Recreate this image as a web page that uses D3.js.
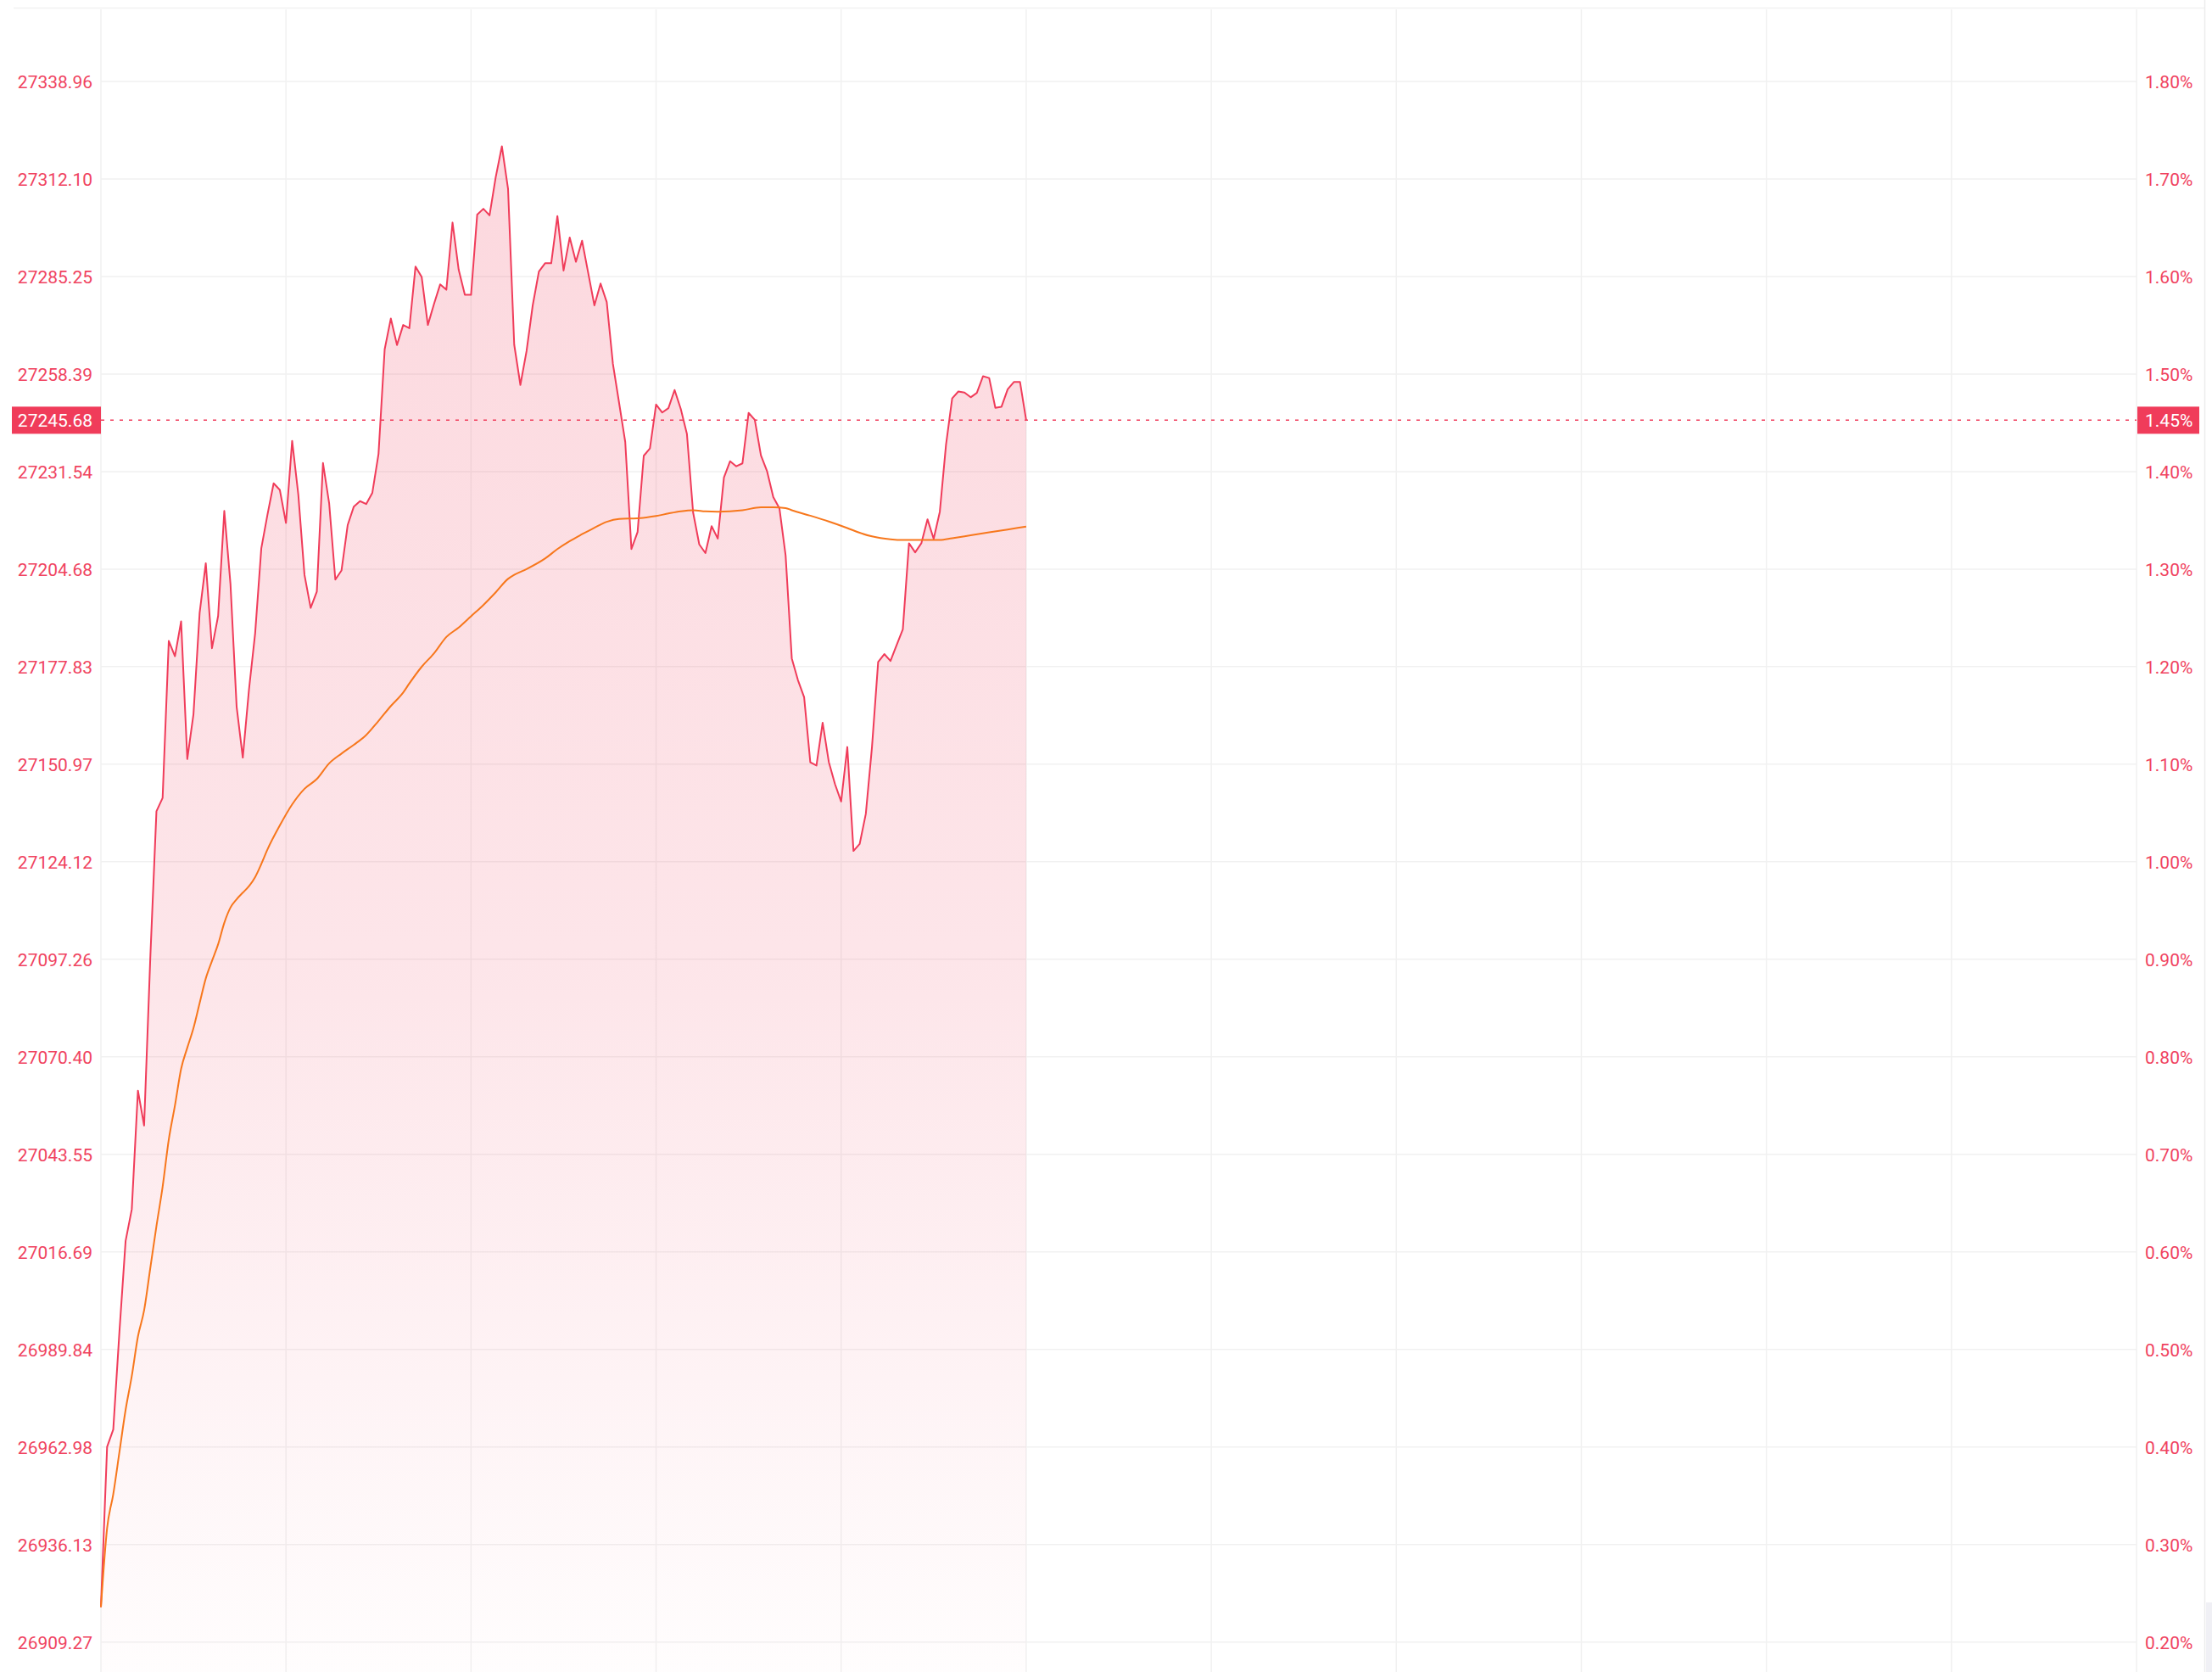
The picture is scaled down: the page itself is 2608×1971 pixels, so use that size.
<!DOCTYPE html>
<html>
<head>
<meta charset="utf-8">
<script src="https://cdn.jsdelivr.net/npm/d3@7/dist/d3.min.js"></script>
<style>
  body { margin: 0; background: #fff; }
  svg { display: block; font-family: Roboto, "Noto Sans", sans-serif; }
</style>
</head>
<body>
<div class="content"></div>
<script>
// intraday price, one value per minute from the open (morning session)
var price = [
  26918.9, 26963.0, 26967.8, 26994.7, 27019.7, 27028.4, 27061.1, 27051.5, 27097.5, 27138.0,
  27141.7, 27184.9, 27180.7, 27190.3, 27152.4, 27164.7, 27192.6, 27206.3, 27182.9, 27191.8,
  27220.7, 27200.6, 27166.8, 27152.8, 27171.5, 27187.0, 27210.4, 27219.7, 27228.3, 27226.5,
  27217.4, 27240.0, 27225.2, 27203.1, 27194.0, 27198.5, 27233.9, 27222.8, 27201.8, 27204.3,
  27216.8, 27221.9, 27223.4, 27222.6, 27225.7, 27236.4, 27265.2, 27273.7, 27266.4, 27271.9,
  27271.0, 27288.0, 27285.1, 27271.9, 27277.7, 27283.1, 27281.6, 27300.1, 27287.1, 27280.2,
  27280.2, 27302.3, 27303.9, 27302.1, 27312.6, 27321.1, 27309.4, 27266.5, 27255.4, 27264.7,
  27277.3, 27286.6, 27288.9, 27288.9, 27301.9, 27286.9, 27296.0, 27289.3, 27295.1, 27286.2,
  27277.3, 27283.3, 27278.2, 27261.2, 27250.5, 27239.7, 27210.2, 27214.9, 27235.9, 27237.9,
  27250.0, 27247.8, 27249.0, 27254.0, 27248.8, 27241.9, 27220.3, 27211.5, 27209.1, 27216.5,
  27213.1, 27229.9, 27234.4, 27233.0, 27233.8, 27247.7, 27245.8, 27236.0, 27231.6, 27224.5,
  27221.4, 27208.4, 27180.1, 27174.1, 27169.4, 27151.5, 27150.6, 27162.4, 27151.6, 27145.5,
  27140.7, 27155.7, 27127.1, 27129.0, 27137.3, 27155.7, 27179.1, 27181.3, 27179.4, 27183.8,
  27188.1, 27211.8, 27209.3, 27211.8, 27218.4, 27213.0, 27220.5, 27238.9, 27251.7, 27253.6,
  27253.3, 27252.0, 27253.2, 27257.8, 27257.3, 27249.1, 27249.4, 27254.2, 27256.2, 27256.2,
  27245.68
];

// average price line, read at these minutes
var avgMinute = [0, 1, 2, 3, 4, 5, 6, 7, 8, 9, 10, 11, 12, 13, 14, 15, 16, 17, 18, 19, 20, 21, 22, 23, 24, 25, 26, 27,
  29, 31, 33, 35, 37, 39, 41, 43, 45, 47, 49, 50, 52, 54, 56, 58, 60, 62, 64, 66, 67, 69, 72, 74, 76, 78, 80, 82, 84,
  87, 90, 92, 94, 96, 98, 100, 104, 107, 109, 111, 112, 115, 118, 121, 123, 125, 128, 130, 133, 136, 138, 141, 144, 147, 150];
var avgPrice = [26918.9, 26940.6, 26950.0, 26961.6, 26973.2, 26982.5, 26993.4, 27000.6, 27012.2, 27023.8,
  27034.6, 27047.6, 27057.0, 27067.1, 27072.9, 27078.3, 27085.2, 27092.0, 27096.8, 27101.4,
  27107.3, 27111.5, 27113.8, 27115.6, 27117.4, 27119.9, 27123.5, 27127.5,
  27134.1, 27139.9, 27144.2, 27146.9, 27151.2, 27153.9, 27156.3, 27159.0, 27162.9, 27167.0, 27170.7, 27173.2,
  27177.8, 27181.5, 27186.0, 27188.6, 27191.7, 27194.8, 27198.3, 27202.0, 27203.1, 27204.7, 27207.6, 27210.2,
  27212.4, 27214.3, 27216.1, 27217.7, 27218.5, 27218.7, 27219.3, 27220.0, 27220.6, 27220.9, 27220.6, 27220.5,
  27220.9, 27221.7, 27221.7, 27221.5, 27220.9, 27219.4, 27217.8, 27216.0, 27214.7, 27213.7, 27212.9, 27212.7,
  27212.7, 27212.7, 27213.2, 27214.0, 27214.8, 27215.6, 27216.4];

var leftTicks = [27338.96, 27312.10, 27285.25, 27258.39, 27231.54, 27204.68, 27177.83, 27150.97, 27124.12,
  27097.26, 27070.40, 27043.55, 27016.69, 26989.84, 26962.98, 26936.13, 26909.27];
var rightTicks = ["1.80%", "1.70%", "1.60%", "1.50%", "1.40%", "1.30%", "1.20%", "1.10%", "1.00%",
  "0.90%", "0.80%", "0.70%", "0.60%", "0.50%", "0.40%", "0.30%", "0.20%"];
var timeTicks = [0, 30, 60, 90, 120, 150, 180, 210, 240, 270, 300, 330];
var lastPrice = 27245.68;
var lastPct = "1.45%";

var W = 2608, H = 1971;
var red = "#f03c5a", orange = "#f7771c", labelColor = "#f0435f", grid = "#f1f1f1";
var fontSize = "21px";

var svg = d3.select(".content")
    .append("svg")
    .attr("width", W)
    .attr("height", H);

var x = d3.scaleLinear().domain([0, 330]).range([119, 2519]);
var y = d3.scaleLinear().domain([26909.27, 27338.96]).range([1935.7, 96]);

// gradient for the area
var defs = svg.append("defs");
var grad = defs.append("linearGradient")
    .attr("id", "fillGrad")
    .attr("gradientUnits", "userSpaceOnUse")
    .attr("x1", 0).attr("x2", 0)
    .attr("y1", y(d3.max(price))).attr("y2", H);
grad.append("stop").attr("offset", "0%").attr("stop-color", red).attr("stop-opacity", 0.2);
grad.append("stop").attr("offset", "55%").attr("stop-color", red).attr("stop-opacity", 0.13);
grad.append("stop").attr("offset", "100%").attr("stop-color", red).attr("stop-opacity", 0.01);

// top border
svg.append("line")
    .attr("x1", 16).attr("x2", 2599)
    .attr("y1", 9.5).attr("y2", 9.5)
    .attr("stroke", grid).attr("stroke-width", 1.5);

// horizontal grid
svg.append("g")
    .selectAll("line")
    .data(leftTicks)
    .enter().append("line")
    .attr("x1", x(0)).attr("x2", x(330))
    .attr("y1", function(d) { return y(d); })
    .attr("y2", function(d) { return y(d); })
    .attr("stroke", grid).attr("stroke-width", 1.5);

// vertical grid
svg.append("g")
    .selectAll("line")
    .data(timeTicks)
    .enter().append("line")
    .attr("x1", function(d) { return x(d); })
    .attr("x2", function(d) { return x(d); })
    .attr("y1", 11).attr("y2", H)
    .attr("stroke", grid).attr("stroke-width", 1.5);

// outer right edge
svg.append("line")
    .attr("x1", 2599.5).attr("x2", 2599.5)
    .attr("y1", 0).attr("y2", H)
    .attr("stroke", "#ececec").attr("stroke-width", 1.5);
svg.append("rect")
    .attr("x", 2601).attr("y", 1889)
    .attr("width", 7).attr("height", H - 1889)
    .attr("fill", "#f0f0f5");

// area + price line
svg.append("path")
    .datum(price)
    .attr("fill", "url(#fillGrad)")
    .attr("d", d3.area()
        .x(function(d, i) { return x(i); })
        .y0(H)
        .y1(function(d) { return y(d); })
    );

svg.append("path")
    .datum(price)
    .attr("fill", "none")
    .attr("stroke", red)
    .attr("stroke-width", 2)
    .attr("stroke-linejoin", "round")
    .attr("d", d3.line()
        .x(function(d, i) { return x(i); })
        .y(function(d) { return y(d); })
    );

// average line
svg.append("path")
    .datum(avgMinute)
    .attr("fill", "none")
    .attr("stroke", orange)
    .attr("stroke-width", 2)
    .attr("d", d3.line()
        .curve(d3.curveMonotoneX)
        .x(function(d) { return x(d); })
        .y(function(d, i) { return y(avgPrice[i]); })
    );

// last price dotted line
svg.append("line")
    .attr("x1", x(0)).attr("x2", x(330))
    .attr("y1", y(lastPrice)).attr("y2", y(lastPrice))
    .attr("stroke", red).attr("stroke-width", 1.5)
    .attr("stroke-dasharray", "4,7");

// left axis
var yLeft = svg.append("g")
    .attr("transform", "translate(" + x(0) + ",0)")
    .call(d3.axisLeft(y).tickValues(leftTicks).tickSize(0).tickPadding(10)
        .tickFormat(function(d) { return d.toFixed(2); }));
yLeft.select(".domain").remove();
yLeft.selectAll("text")
    .attr("fill", labelColor)
    .attr("dy", "0.38em")
    .style("font-size", fontSize)
    .style("font-family", "Roboto, sans-serif");

// right axis
var yRight = svg.append("g")
    .attr("transform", "translate(" + x(330) + ",0)")
    .call(d3.axisRight(y).tickValues(leftTicks).tickSize(0).tickPadding(10)
        .tickFormat(function(d, i) { return rightTicks[i]; }));
yRight.select(".domain").remove();
yRight.selectAll("text")
    .attr("fill", labelColor)
    .attr("dy", "0.38em")
    .style("font-size", fontSize)
    .style("font-family", "Roboto, sans-serif");

// last value tags
var ly = y(lastPrice);
svg.append("rect")
    .attr("x", 14).attr("y", ly - 16)
    .attr("width", x(0) - 14).attr("height", 32)
    .attr("fill", red);
svg.append("text")
    .attr("x", x(0) - 10).attr("y", ly)
    .attr("dy", "0.36em")
    .attr("text-anchor", "end")
    .attr("fill", "#fff")
    .style("font-size", fontSize)
    .text(lastPrice.toFixed(2));

svg.append("rect")
    .attr("x", x(330) + 1).attr("y", ly - 16)
    .attr("width", 73).attr("height", 32)
    .attr("fill", red);
svg.append("text")
    .attr("x", x(330) + 10).attr("y", ly)
    .attr("dy", "0.36em")
    .attr("fill", "#fff")
    .style("font-size", fontSize)
    .text(lastPct);
</script>
</body>
</html>
